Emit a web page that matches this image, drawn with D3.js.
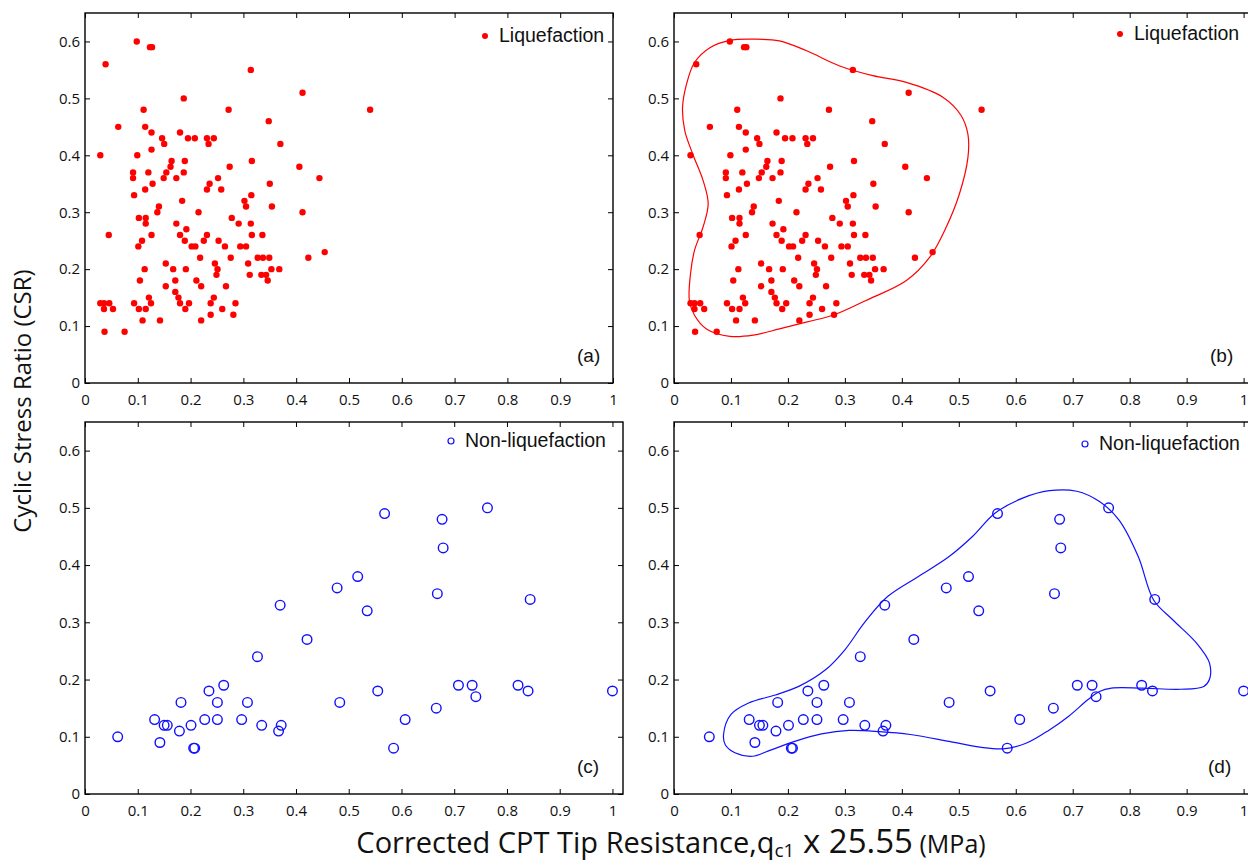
<!DOCTYPE html>
<html lang="en">
<head>
<meta charset="utf-8">
<title>CSR vs corrected CPT tip resistance</title>
<script src="https://cdn.jsdelivr.net/npm/d3@7"></script>
<style>
body { margin: 0; background: #fff; }
</style>
</head>
<body>
<script>
// values: [qc1 (normalised), CSR]
const liquefaction = [
  [0.098,0.60],[0.123,0.59],[0.127,0.59],[0.039,0.56],[0.314,0.55],[0.412,0.51],[0.187,0.50],
  [0.111,0.48],[0.272,0.48],[0.540,0.48],[0.348,0.46],[0.063,0.45],[0.114,0.45],
  [0.126,0.44],[0.180,0.44],[0.146,0.43],[0.195,0.43],[0.208,0.43],[0.231,0.43],[0.244,0.43],
  [0.150,0.42],[0.234,0.42],[0.370,0.42],[0.126,0.41],[0.029,0.40],[0.099,0.40],
  [0.164,0.39],[0.189,0.39],[0.316,0.39],[0.162,0.38],[0.274,0.38],[0.406,0.38],
  [0.091,0.37],[0.120,0.37],[0.154,0.37],[0.187,0.37],
  [0.091,0.36],[0.149,0.36],[0.173,0.36],[0.252,0.36],[0.444,0.36],
  [0.128,0.35],[0.236,0.35],[0.350,0.35],[0.114,0.34],[0.231,0.34],[0.258,0.34],
  [0.093,0.33],[0.315,0.33],[0.184,0.32],[0.302,0.32],[0.140,0.31],[0.305,0.31],[0.354,0.31],
  [0.137,0.30],[0.215,0.30],[0.412,0.30],[0.102,0.29],[0.115,0.29],[0.278,0.29],
  [0.115,0.28],[0.173,0.28],[0.291,0.28],[0.314,0.28],[0.192,0.27],
  [0.045,0.26],[0.126,0.26],[0.180,0.26],[0.231,0.26],[0.316,0.26],[0.336,0.26],
  [0.108,0.25],[0.189,0.25],[0.225,0.25],[0.253,0.25],
  [0.101,0.24],[0.202,0.24],[0.209,0.24],[0.265,0.24],[0.294,0.24],[0.305,0.24],
  [0.454,0.23],[0.218,0.22],[0.276,0.22],[0.327,0.22],[0.337,0.22],[0.349,0.22],[0.423,0.22],
  [0.153,0.21],[0.246,0.21],[0.309,0.21],
  [0.113,0.20],[0.167,0.20],[0.191,0.20],[0.251,0.20],[0.353,0.20],[0.368,0.20],
  [0.249,0.19],[0.312,0.19],[0.334,0.19],[0.343,0.19],
  [0.104,0.18],[0.171,0.18],[0.211,0.18],[0.346,0.18],
  [0.153,0.17],[0.220,0.17],[0.267,0.17],[0.171,0.16],
  [0.121,0.15],[0.177,0.15],[0.244,0.15],
  [0.029,0.14],[0.036,0.14],[0.046,0.14],[0.093,0.14],[0.125,0.14],[0.180,0.14],[0.197,0.14],[0.238,0.14],[0.285,0.14],
  [0.036,0.13],[0.053,0.13],[0.102,0.13],[0.115,0.13],[0.190,0.13],[0.260,0.13],
  [0.238,0.12],[0.281,0.12],[0.109,0.11],[0.142,0.11],[0.220,0.11],
  [0.037,0.09],[0.075,0.09]
];

const nonLiquefaction = [
  [0.062,0.10],[0.132,0.13],[0.142,0.09],[0.150,0.12],[0.156,0.12],[0.179,0.11],[0.182,0.16],
  [0.201,0.12],[0.206,0.08],[0.208,0.08],[0.227,0.13],[0.235,0.18],[0.251,0.16],[0.251,0.13],
  [0.263,0.19],[0.297,0.13],[0.308,0.16],[0.327,0.24],[0.335,0.12],[0.367,0.11],[0.372,0.12],
  [0.370,0.33],[0.421,0.27],[0.478,0.36],[0.483,0.16],[0.517,0.38],[0.535,0.32],[0.568,0.49],
  [0.555,0.18],[0.585,0.08],[0.607,0.13],[0.666,0.15],[0.668,0.35],[0.677,0.48],[0.679,0.43],
  [0.708,0.19],[0.734,0.19],[0.741,0.17],[0.763,0.50],[0.821,0.19],[0.840,0.18],[0.844,0.34],
  [1.000,0.18]
];

// hand-traced boundary curves of panels (b) and (d)
const liqContour = [
  [0.139,0.604],[0.098,0.602],[0.063,0.589],[0.036,0.563],[0.022,0.525],[0.015,0.484],
  [0.019,0.443],[0.033,0.402],[0.051,0.356],[0.060,0.315],[0.051,0.274],[0.036,0.233],
  [0.029,0.192],[0.027,0.145],[0.036,0.119],[0.057,0.095],[0.098,0.082],[0.139,0.084],
  [0.185,0.095],[0.232,0.107],[0.279,0.119],[0.337,0.145],[0.408,0.180],[0.449,0.221],
  [0.478,0.274],[0.501,0.332],[0.516,0.396],[0.516,0.437],[0.504,0.470],[0.472,0.502],
  [0.408,0.528],[0.349,0.540],[0.291,0.557],[0.232,0.584],[0.185,0.601]
];

const nonLiqContour = [
  [0.087,0.104],[0.100,0.139],[0.131,0.159],[0.178,0.173],[0.219,0.188],[0.266,0.217],
  [0.300,0.252],[0.334,0.299],[0.375,0.345],[0.429,0.380],[0.483,0.415],[0.524,0.450],
  [0.564,0.491],[0.612,0.517],[0.659,0.530],[0.707,0.529],[0.747,0.511],[0.781,0.479],
  [0.815,0.415],[0.842,0.339],[0.876,0.304],[0.917,0.264],[0.940,0.229],[0.940,0.200],
  [0.930,0.188],[0.890,0.183],[0.822,0.185],[0.768,0.185],[0.747,0.179],[0.727,0.165],
  [0.693,0.136],[0.659,0.112],[0.619,0.089],[0.578,0.079],[0.537,0.082],[0.483,0.092],
  [0.415,0.104],[0.361,0.109],[0.307,0.111],[0.259,0.105],[0.212,0.092],[0.165,0.075],
  [0.138,0.066],[0.107,0.072],[0.090,0.086]
];

const xTicks = [0, 0.1, 0.2, 0.3, 0.4, 0.5, 0.6, 0.7, 0.8, 0.9, 1];
const yTicks = [0, 0.1, 0.2, 0.3, 0.4, 0.5, 0.6];

const W = 1248, H = 865;
const RED = "#ff0000", BLUE = "#1010ff";

const svg = d3.select("body").append("svg")
  .attr("width", W).attr("height", H)
  .style("display", "block");

const tickFmt = d => d === 0 ? "0" : d === 1 ? "1" : d3.format(".1f")(d);

function drawPanel(p) {
  let x = d3.scaleLinear().domain([0, p.xmax]).range([p.left, p.right]);
  let y = d3.scaleLinear().domain([0, 0.65]).range([p.bottom, p.top]);

  let g = svg.append("g");

  // inward ticks on all four sides, MATLAB style
  let bottom = g.append("g").attr("transform", `translate(0,${p.bottom})`)
    .call(d3.axisBottom(x).tickValues(xTicks).tickFormat(tickFmt).tickSize(-5).tickPadding(11));
  let top = g.append("g").attr("transform", `translate(0,${p.top})`)
    .call(d3.axisTop(x).tickValues(xTicks).tickFormat("").tickSize(-5));
  let left = g.append("g").attr("transform", `translate(${p.left},0)`)
    .call(d3.axisLeft(y).tickValues(yTicks).tickFormat(tickFmt).tickSize(-5).tickPadding(5));
  let right = g.append("g").attr("transform", `translate(${p.right},0)`)
    .call(d3.axisRight(y).tickValues(yTicks).tickFormat("").tickSize(-5));

  [bottom, top, left, right].forEach(a => {
    a.select(".domain").remove();
    a.selectAll("line").attr("stroke", "#000");
    a.selectAll("text")
      .attr("font-family", "'Open Sans', sans-serif")
      .attr("font-size", "15px")
      .attr("fill", "#111");
  });

  g.append("rect")
    .attr("x", p.left).attr("y", p.top)
    .attr("width", p.right - p.left).attr("height", p.bottom - p.top)
    .attr("fill", "none").attr("stroke", "#000").attr("stroke-width", 1.4);

  if (p.contour) {
    let line = d3.line()
      .x(d => x(d[0])).y(d => y(d[1]))
      .curve(d3.curveCatmullRomClosed.alpha(0.5));
    g.append("path")
      .attr("d", line(p.contour))
      .attr("fill", "none")
      .attr("stroke", p.color)
      .attr("stroke-width", 1.2);
  }

  let pts = g.append("g").selectAll("circle")
    .data(p.data)
    .enter()
    .append("circle")
    .attr("cx", d => x(d[0]))
    .attr("cy", d => y(d[1]));
  if (p.filled) {
    pts.attr("r", 3.2).attr("fill", p.color);
  } else {
    pts.attr("r", 4.8).attr("fill", "none").attr("stroke", p.color).attr("stroke-width", 1.4);
  }

  // legend
  let lg = g.append("g");
  let m = lg.append("circle").attr("cx", p.legX).attr("cy", p.legY);
  if (p.filled) m.attr("r", 3).attr("fill", p.color);
  else m.attr("r", 3).attr("fill", "none").attr("stroke", p.color).attr("stroke-width", 1.2);
  lg.append("text")
    .attr("x", p.legX + 14).attr("y", p.legY + 6)
    .attr("font-family", "'Liberation Sans', Arial, sans-serif")
    .attr("font-size", "19.5px")
    .attr("fill", "#111")
    .text(p.legend);

  g.append("text")
    .attr("x", p.labX).attr("y", p.labY)
    .attr("font-family", "'Liberation Sans', Arial, sans-serif")
    .attr("font-size", "19px")
    .attr("fill", "#111")
    .text(p.label);
}

drawPanel({ left: 85, right: 613, top: 13, bottom: 383, xmax: 1,
  data: liquefaction, filled: true, color: RED,
  legend: "Liquefaction", legX: 485, legY: 36, label: "(a)", labX: 577, labY: 362 });

drawPanel({ left: 674, right: 1255, top: 13, bottom: 383, xmax: 1.02,
  data: liquefaction, filled: true, color: RED, contour: liqContour,
  legend: "Liquefaction", legX: 1120, legY: 34, label: "(b)", labX: 1210, labY: 362 });

drawPanel({ left: 85, right: 623, top: 422, bottom: 794, xmax: 1.02,
  data: nonLiquefaction, filled: false, color: BLUE,
  legend: "Non-liquefaction", legX: 451, legY: 441, label: "(c)", labX: 577, labY: 773 });

drawPanel({ left: 674, right: 1255, top: 422, bottom: 794, xmax: 1.02,
  data: nonLiquefaction, filled: false, color: BLUE, contour: nonLiqContour,
  legend: "Non-liquefaction", legX: 1085, legY: 444, label: "(d)", labX: 1208, labY: 773 });

// axis titles
svg.append("text")
  .attr("transform", "translate(31,401) rotate(-90)")
  .attr("text-anchor", "middle")
  .attr("font-family", "'Open Sans', sans-serif")
  .attr("font-size", "24px")
  .attr("fill", "#111")
  .text("Cyclic Stress Ratio (CSR)");

let xt = svg.append("text")
  .attr("x", 671).attr("y", 853)
  .attr("text-anchor", "middle")
  .attr("font-family", "'Open Sans', sans-serif")
  .attr("fill", "#111");
xt.append("tspan").attr("font-size", "29px").text("Corrected CPT Tip Resistance,q");
xt.append("tspan").attr("font-size", "19px").attr("dy", 4).text("c1");
xt.append("tspan").attr("font-size", "33px").attr("dy", -4).text(" x 25.55");
xt.append("tspan").attr("font-size", "25px").text(" (MPa)");
</script>
</body>
</html>
